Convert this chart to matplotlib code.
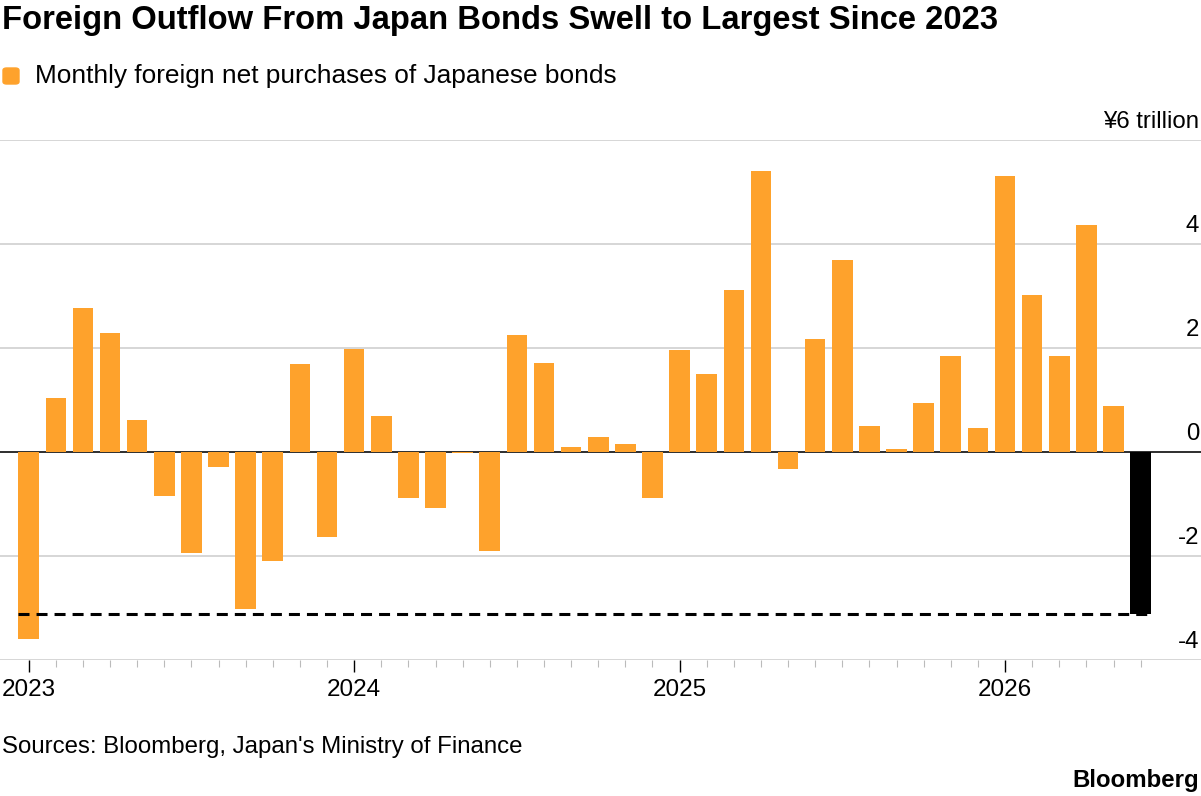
import matplotlib
matplotlib.use("Agg")
import numpy as np
import matplotlib.pyplot as plt
from matplotlib.patches import FancyBboxPatch
from matplotlib.transforms import blended_transform_factory

plt.rcParams['font.family'] = ['Liberation Sans', 'DejaVu Sans']

# monthly foreign net purchases of Japanese bonds, trillion yen, Jan 2023 onward
values = [-3.60, 1.04, 2.76, 2.28, 0.62, -0.84, -1.95, -0.30, -3.02, -2.10, 1.69, -1.63,
          1.97, 0.68, -0.88, -1.07, -0.02, -1.90, 2.24, 1.71, 0.10, 0.29, 0.15, -0.89,
          1.96, 1.49, 3.11, 5.39, -0.33, 2.17, 3.69, 0.50, 0.05, 0.94, 1.85, 0.45,
          5.30, 3.01, 1.85, 4.37, 0.89, -3.11]
years = ['2023', '2024', '2025', '2026']
y_ticks = [-4, -2, 0, 2, 4, 6]
y_labels = ['-4', '-2', '0', '2', '4', '¥6 trillion']

ORANGE = '#fea22c'
GRID = '#cccccc'
W, H = 1201, 796

fig = plt.figure(figsize=(W / 100, H / 100), dpi=100)
ax = fig.add_axes([0, 1 - 660 / H, 1, (660 - 139.7) / H])

x = np.arange(len(values))
colors = [ORANGE] * (len(values) - 1) + ['black']
bw = 0.76
ax.bar(x, values, width=bw, color=colors, zorder=3)

ax.set_xlim(-28.7 / 27.12, (W - 28.7) / 27.12)
ax.set_ylim(-4, 6)

for t in y_ticks:
    ax.axhline(t, color=GRID, lw=1.1, zorder=1)
ax.axhline(0, color='black', lw=1.1, zorder=2)

# latest month level marker
ax.hlines(values[-1], x[0] - bw / 2, x[-1] + bw / 2, colors='black', lw=2.2,
          linestyles=(0, (3.6, 2.3)), zorder=4)

for s in ax.spines.values():
    s.set_visible(False)
ax.set_yticks([])

major = [i for i in x if i % 12 == 0]
minor = [i for i in x if i % 12 != 0]
ax.set_xticks(major)
ax.set_xticklabels(years[:len(major)], fontsize=17.5)
ax.set_xticks(minor, minor=True)
ax.tick_params(axis='x', which='major', length=8.5, width=1.0, color='black', pad=5)
ax.tick_params(axis='x', which='minor', length=5, width=0.8, color='#bbbbbb')

tr = blended_transform_factory(ax.transAxes, ax.transData)
for t, lab in zip(y_ticks, y_labels):
    ax.text(0.9985, t + 0.23, lab, transform=tr, ha='right', va='baseline', fontsize=17.3)

fig.text(2 / W, 1 - 29 / H, 'Foreign Outflow From Japan Bonds Swell to Largest Since 2023',
         fontsize=23.6, fontweight='bold', ha='left', va='baseline')
fig.patches.append(FancyBboxPatch((3 / W, 1 - 84 / H), 16 / W, 16 / H,
                                  boxstyle='round,pad=0,rounding_size=0.003',
                                  transform=fig.transFigure, color=ORANGE))
fig.text(35 / W, 1 - 83 / H, 'Monthly foreign net purchases of Japanese bonds',
         fontsize=18.9, ha='left', va='baseline')
fig.text(2 / W, 1 - 753 / H, "Sources: Bloomberg, Japan's Ministry of Finance",
         fontsize=17.3, ha='left', va='baseline')
fig.text(1199 / W, 1 - 787 / H, 'Bloomberg', fontsize=17.3, fontweight='bold',
         ha='right', va='baseline')

fig.savefig('out.png', dpi=100)
